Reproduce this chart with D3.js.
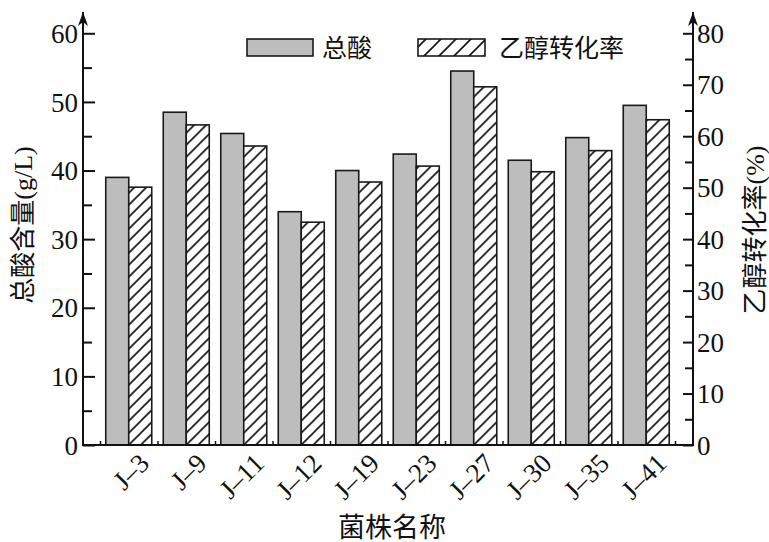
<!DOCTYPE html>
<html>
<head>
<meta charset="utf-8">
<script src="https://cdn.jsdelivr.net/npm/d3@7/dist/d3.min.js"></script>
<style>
  html, body { margin: 0; padding: 0; background: #fff; }
  svg { display: block; }
  text { font-family: "Liberation Serif", "Noto Sans CJK SC", serif; fill: #111; }
</style>
</head>
<body>
<svg id="chart" width="769" height="542"></svg>
<script>
// Strain names
const strains = ["J–3", "J–9", "J–11", "J–12", "J–19", "J–23", "J–27", "J–30", "J–35", "J–41"];
// Total acid content (g/L), left axis
const totalAcid = [39.0, 48.5, 45.4, 34.0, 40.0, 42.4, 54.5, 41.5, 44.8, 49.5];
// Ethanol conversion rate (%), right axis
const conversion = [50.1, 62.2, 58.1, 43.3, 51.1, 54.2, 69.6, 53.1, 57.2, 63.2];
// Tick values for the two value axes
const leftTicks = [0, 10, 20, 30, 40, 50, 60];
const rightTicks = [0, 10, 20, 30, 40, 50, 60, 70, 80];
const seriesNames = ["总酸", "乙醇转化率"];

const svg = d3.select("#chart");
const axisLeftX = 83, axisRightX = 693, baseY = 445, topY = 33.3;
const numFont = 27;

const defs = svg.append("defs");
// diagonal hatch used inside bars
const hp = 12;
const hatch = defs.append("pattern")
  .attr("id", "hatch").attr("patternUnits", "userSpaceOnUse")
  .attr("width", hp).attr("height", hp);
hatch.append("rect").attr("width", hp).attr("height", hp).attr("fill", "#fff");
hatch.append("path")
  .attr("d", `M-2,${hp + 2} L${hp + 2},-2 M-2,2 L2,-2 M${hp - 2},${hp + 2} L${hp + 2},${hp - 2}`)
  .attr("stroke", "#111").attr("stroke-width", 1.6).attr("fill", "none");
// wider hatch for the legend swatch
const hatchL = defs.append("pattern")
  .attr("id", "hatchLegend").attr("patternUnits", "userSpaceOnUse")
  .attr("width", 15).attr("height", 15);
hatchL.append("rect").attr("width", 15).attr("height", 15).attr("fill", "#fff");
hatchL.append("path")
  .attr("d", "M-2,17 L17,-2 M-2,2 L2,-2 M13,17 L17,13")
  .attr("stroke", "#111").attr("stroke-width", 1.6).attr("fill", "none");
// arrow head for the value axes
defs.append("marker")
  .attr("id", "arrow").attr("viewBox", "0 0 10 14")
  .attr("refX", 5).attr("refY", 0).attr("markerWidth", 10).attr("markerHeight", 14)
  .attr("markerUnits", "userSpaceOnUse").attr("orient", "0")
  .append("path").attr("d", "M0,14 L5,0 L10,14 L5,10 Z").attr("fill", "#111");

// scales
const x = d3.scaleBand().domain(strains).range([100, 675])
  .paddingInner(0.2).paddingOuter(0.1);
const xSub = d3.scaleBand().domain(seriesNames).range([0, x.bandwidth()]);
const yL = d3.scaleLinear().domain([0, 60]).range([baseY, topY]);
const yR = d3.scaleLinear().domain([0, 80]).range([baseY, topY]);
const xEdge = d3.scaleLinear().domain([0, strains.length]).range([100, 675]);

// bars
const groups = svg.append("g").selectAll("g").data(strains).join("g")
  .attr("transform", d => `translate(${x(d)},0)`);
groups.append("rect")
  .attr("x", xSub(seriesNames[0]))
  .attr("y", (d, i) => yL(totalAcid[i]))
  .attr("width", xSub.bandwidth())
  .attr("height", (d, i) => baseY - yL(totalAcid[i]))
  .attr("fill", "#bdbdbd").attr("stroke", "#1a1a1a").attr("stroke-width", 1.6);
groups.append("rect")
  .attr("x", xSub(seriesNames[1]))
  .attr("y", (d, i) => yR(conversion[i]))
  .attr("width", xSub.bandwidth())
  .attr("height", (d, i) => baseY - yR(conversion[i]))
  .attr("fill", "url(#hatch)").attr("stroke", "#1a1a1a").attr("stroke-width", 1.6);

// axes
function styleAxis(g) {
  g.selectAll(".domain").remove();
  g.selectAll("line").attr("stroke", "#111").attr("stroke-width", 2);
  g.selectAll("text").attr("font-size", numFont).attr("fill", "#111")
    .attr("font-family", "Liberation Serif, serif");
}

// left value axis: minor ticks then major ticks with labels
svg.append("g").attr("transform", `translate(${axisLeftX},0)`)
  .call(d3.axisRight(yL).tickValues(d3.range(5, 60, 10)).tickSize(9).tickFormat(""))
  .call(styleAxis);
svg.append("g").attr("transform", `translate(${axisLeftX},0)`)
  .call(d3.axisRight(yL).tickValues(leftTicks).tickSize(12).tickFormat(d3.format("d")))
  .call(styleAxis)
  .call(g => g.selectAll("text").attr("x", -5).attr("text-anchor", "end").attr("dy", "0.34em"));

// right value axis
svg.append("g").attr("transform", `translate(${axisRightX},0)`)
  .call(d3.axisLeft(yR).tickValues(d3.range(5, 80, 10)).tickSize(8).tickFormat(""))
  .call(styleAxis);
svg.append("g").attr("transform", `translate(${axisRightX},0)`)
  .call(d3.axisLeft(yR).tickValues(rightTicks).tickSize(10).tickFormat(d3.format("d")))
  .call(styleAxis)
  .call(g => g.selectAll("text").attr("x", 4).attr("text-anchor", "start").attr("dy", "0.34em"));

// axis lines with arrows
svg.append("line").attr("x1", axisLeftX).attr("x2", axisLeftX).attr("y1", baseY + 1).attr("y2", 12)
  .attr("stroke", "#111").attr("stroke-width", 2).attr("marker-end", "url(#arrow)");
svg.append("line").attr("x1", axisRightX).attr("x2", axisRightX).attr("y1", baseY + 1).attr("y2", 12)
  .attr("stroke", "#111").attr("stroke-width", 2).attr("marker-end", "url(#arrow)");
svg.append("line").attr("x1", axisLeftX).attr("x2", axisRightX).attr("y1", baseY).attr("y2", baseY)
  .attr("stroke", "#111").attr("stroke-width", 2);

// small group-boundary ticks on the category axis
svg.append("g").attr("transform", `translate(0,${baseY})`)
  .call(d3.axisBottom(xEdge).tickValues(d3.range(0, strains.length + 1)).tickSize(-4).tickFormat(""))
  .call(g => g.select(".domain").remove())
  .call(g => g.selectAll("line").attr("stroke", "#111").attr("stroke-width", 1.5));

// category labels, rotated
svg.append("g").attr("transform", `translate(0,${baseY})`)
  .call(d3.axisBottom(x).tickSize(0))
  .call(g => g.select(".domain").remove())
  .call(g => g.selectAll("text")
    .attr("font-size", numFont).attr("fill", "#111").attr("font-family", "Liberation Serif, serif")
    .attr("text-anchor", "end").attr("dy", 0).attr("y", 0)
    .attr("transform", "translate(22,20) rotate(-45)"));

// axis titles
svg.append("text").attr("transform", "translate(32,225) rotate(-90)")
  .attr("text-anchor", "middle").attr("font-size", 26).text("总酸含量(g/L)");
svg.append("text").attr("transform", "translate(764,230) rotate(-90)")
  .attr("text-anchor", "middle").attr("font-size", 26).text("乙醇转化率(%)");
svg.append("text").attr("x", 392).attr("y", 537)
  .attr("text-anchor", "middle").attr("font-size", 27).text("菌株名称");

// legend
const legend = svg.append("g");
legend.append("rect").attr("x", 247).attr("y", 39).attr("width", 66).attr("height", 17)
  .attr("fill", "#bdbdbd").attr("stroke", "#1a1a1a").attr("stroke-width", 1.6);
legend.append("text").attr("x", 322).attr("y", 57).attr("font-size", 25).text(seriesNames[0]);
legend.append("rect").attr("x", 418).attr("y", 39).attr("width", 67).attr("height", 17)
  .attr("fill", "url(#hatchLegend)").attr("stroke", "#1a1a1a").attr("stroke-width", 1.6);
legend.append("text").attr("x", 499).attr("y", 57).attr("font-size", 25).text(seriesNames[1]);
</script>
</body>
</html>
